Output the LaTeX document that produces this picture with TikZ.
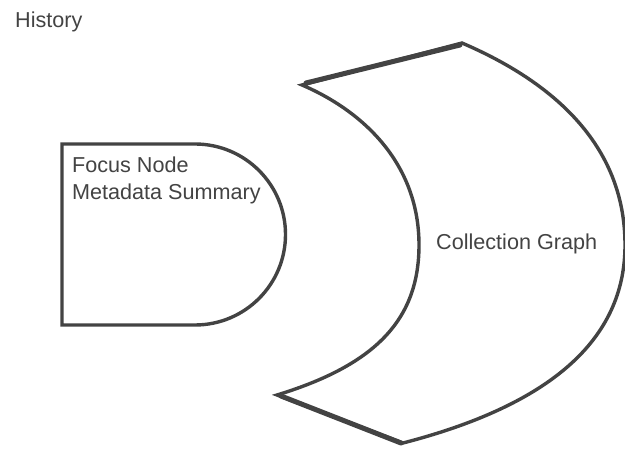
\documentclass[tikz,border=0pt]{standalone}
\usepackage{fontspec}
\setmainfont{Liberation Sans}
\definecolor{ink}{HTML}{434343}
\begin{document}
\begin{tikzpicture}[x=1pt,y=-1pt,
  shapeline/.style={draw=ink,line width=3.4pt,fill=white,line join=miter},
  thickedge/.style={draw=ink,line width=5pt,line cap=round},
  lbl/.style={text=ink,inner sep=0pt,font=\fontsize{21.6}{27}\selectfont}]
\useasboundingbox (0,0) rectangle (625,449);
% title
\node[lbl,anchor=base west] (title) at (15,28) {History};
% delay shape
\draw[shapeline] (62,144) -- (195,144) arc[start angle=-90,end angle=90,radius=90.5] -- (62,325) -- cycle;
\node[lbl,anchor=north west,align=left] (focus) at (72,157) {Focus Node\\Metadata Summary};
% collection graph shape
\draw[shapeline] (302,85) -- (462,43)
  .. controls (560,85) and (625,150) .. (625,245)
  .. controls (625,340) and (550,405) .. (403,443)
  -- (277,395)
  .. controls (375,365) and (419,320) .. (419,245)
  .. controls (419,165) and (365,112) .. cycle;
\coordinate (tl) at (306,83);
\coordinate (tr) at (460,45);
\coordinate (bl) at (281,396);
\coordinate (br) at (401,443);
\draw[thickedge] (tl) -- (tr);
\draw[thickedge] (bl) -- (br);
\node[lbl,anchor=base west] (coll) at (436,250) {Collection Graph};
\end{tikzpicture}
\end{document}
